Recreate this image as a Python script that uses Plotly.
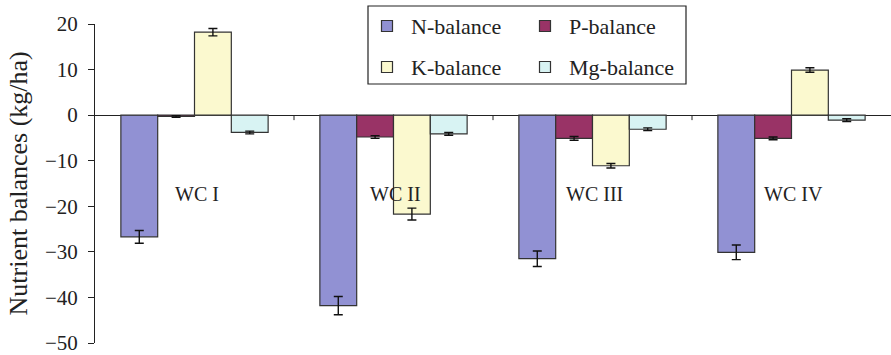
import plotly.graph_objects as go

# Nutrient balances per crop rotation (kg/ha) with standard errors
categories = ["WC I", "WC II", "WC III", "WC IV"]
series_names = ["N-balance", "P-balance", "K-balance", "Mg-balance"]
n_balance = [-26.7, -41.8, -31.5, -30.1]
p_balance = [-0.3, -4.8, -5.1, -5.1]
k_balance = [18.2, -21.7, -11.1, 9.9]
mg_balance = [-3.8, -4.1, -3.1, -1.1]
n_err = [1.4, 2.0, 1.7, 1.6]
p_err = [0.2, 0.3, 0.4, 0.3]
k_err = [0.8, 1.3, 0.5, 0.5]
mg_err = [0.3, 0.3, 0.3, 0.3]
y_ticks = [20, 10, 0, -10, -20, -30, -40, -50]

values = [n_balance, p_balance, k_balance, mg_balance]
errors = [n_err, p_err, k_err, mg_err]
colors = ["#9191D3", "#993366", "#FBF9CF", "#D8F3F3"]

FONT = "Liberation Serif"
W, H = 891, 355
L, R, T, B = 95, 0, 24, 12
PW, PH = W - L - R, H - T - B


def px(x):
    return (x - L) / PW


def py(y):
    return (H - B - y) / PH


fig = go.Figure()
for name, vals, errs, col in zip(series_names, values, errors, colors):
    fig.add_trace(go.Bar(
        x=categories, y=vals, name=name,
        marker=dict(color=col, line=dict(color="#333333", width=1.2)),
        error_y=dict(type="data", array=errs, visible=True,
                     color="#111111", thickness=1.4, width=4.5),
        showlegend=False,
    ))

# Category labels inside the plot
for c in categories:
    fig.add_annotation(x=c, y=-17.3, text=c, showarrow=False,
                       xshift=2, font=dict(family=FONT, size=20, color="#222222"))

# Short separator ticks under the zero line between categories
for i in range(len(categories) - 1):
    fig.add_shape(type="line", xref="x", yref="y", x0=i + 0.5, x1=i + 0.5,
                  ysizemode="pixel", yanchor=0, y0=0, y1=-5,
                  line=dict(color="#222222", width=1))

# Legend box
fig.add_shape(type="rect", xref="paper", yref="paper",
              x0=px(368), x1=px(686), y0=py(84), y1=py(6),
              line=dict(color="#222222", width=1.2), fillcolor="white")
legend_pos = [(387, 26), (545, 26), (387, 67), (545, 67)]
for name, col, (sx, sy) in zip(series_names, colors, legend_pos):
    fig.add_shape(type="rect", xref="paper", yref="paper",
                  x0=px(sx - 5.5), x1=px(sx + 5.5), y0=py(sy + 5.5), y1=py(sy - 5.5),
                  line=dict(color="#333333", width=1.2), fillcolor=col)
    fig.add_annotation(xref="paper", yref="paper", x=px(sx + 22), y=py(sy),
                       text=name, showarrow=False, xanchor="left", yanchor="middle",
                       font=dict(family=FONT, size=22, color="#222222"))

# Y axis title
fig.add_annotation(xref="paper", yref="paper", x=px(18), y=0.5, text="Nutrient balances (kg/ha)",
                   textangle=-90, showarrow=False, xanchor="center", yanchor="middle",
                   font=dict(family=FONT, size=26, color="#222222"))

fig.update_layout(
    width=W, height=H,
    margin=dict(l=L, r=R, t=T, b=B),
    paper_bgcolor="white", plot_bgcolor="white",
    barmode="group", bargap=0.26, bargroupgap=0,
    font=dict(family=FONT, color="#222222"),
    xaxis=dict(range=[-0.5, 3.5], showticklabels=False, ticks="",
               showline=False, showgrid=False, zeroline=False),
    yaxis=dict(range=[-50, 20], tickvals=y_ticks, ticks="outside", ticklen=6,
               tickcolor="#222222", showline=True, linecolor="#222222", linewidth=1,
               showgrid=False, zeroline=True, zerolinecolor="#222222", zerolinewidth=1,
               tickfont=dict(family=FONT, size=21, color="#222222"),
               ticklabelstandoff=6, ticklabeloverflow="allow"),
)

fig.write_html("out.html")
